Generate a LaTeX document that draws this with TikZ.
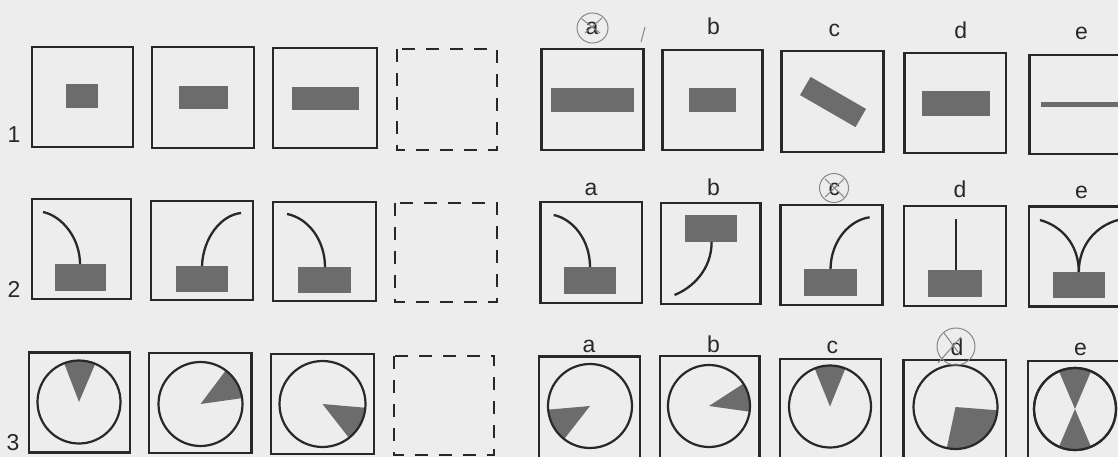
\documentclass[tikz,border=0pt]{standalone}
\usepackage{fontspec}
\setmainfont{Liberation Sans}
\definecolor{paper}{RGB}{237,237,237}
\definecolor{ink}{RGB}{40,40,40}
\definecolor{shade}{RGB}{108,108,108}
\definecolor{pencil}{RGB}{135,135,135}

\begin{document}
\begin{tikzpicture}[x=1pt,y=-1pt,
    boxframe/.style={draw=ink,line width=2.8pt},
    emptybox/.style={draw=ink,line width=2.2pt,dash pattern=on 13pt off 11pt},
    block/.style={fill=shade},
    wire/.style={draw=ink,line width=2.3pt},
    dial/.style={draw=ink,line width=2.2pt},
    letter/.style={font=\fontsize{23}{23}\selectfont,text=ink,anchor=base,inner sep=0pt},
    penmark/.style={draw=pencil,line width=1pt}]
    \useasboundingbox (0,0) rectangle (1118,457);
    \fill[paper] (0,0) rectangle (1118,457);
    \clip (0,0) rectangle (1118,457);
    % row numbers
    \node[letter] (row1) at (14,143) {1};
    \node[letter] (row2) at (14,297) {2};
    \node[letter] (row3) at (13,450) {3};
    % answer letters
    \foreach \lab/\x/\y in {a/592/35,b/713.6/35,c/834.3/37,d/960.8/39,e/1081.5/40}{\node[letter] (r1\lab) at (\x,\y) {\lab};}
    \foreach \lab/\x/\y in {a/590.9/195,b/713.6/195,c/834.3/196,d/960/197,e/1081.5/198}{\node[letter] (r2\lab) at (\x,\y) {\lab};}
    \foreach \lab/\x/\y in {a/589/352,b/713.6/352,c/832.4/353,d/957/355,e/1080.4/355}{\node[letter] (r3\lab) at (\x,\y) {\lab};}
    % frames
    \foreach \xa/\ya/\xb/\yb in {32/47/133/147,152/47/254/148,273/48/377/148,541.8/49/643.4/150,662.6/50/762.6/150,781.8/51/883.4/152,904.4/53/1006/153,1029.8/55/1131/154,
        32/199/131/299,151/201/253/300,273/202/376/301,540.3/202/641.9/303,661/203/760.7/304,780.6/205/882.2/305,904/206/1006/306,1029/206.7/1130/306.7,
        29/352.7/130/452.7,149/353/251.7/453,271/354/374/454,539/356.7/640/458,660/356/759.6/458,779.9/359/881/460,903.3/360/1006/461,1027.9/361/1129/462}
      {\draw[boxframe] (\xa,\ya) rectangle (\xb,\yb);}
    \draw[emptybox] (397,49) rectangle (497,150);
    \draw[emptybox] (395,203) rectangle (497,302);
    \draw[emptybox] (394,356) rectangle (494,455);
    % row 1
    \fill[block] (66,84) rectangle (98,108);
    \fill[block] (179,86) rectangle (228,109);
    \fill[block] (292,87) rectangle (359,110);
    \fill[block] (551,88) rectangle (634,112);
    \fill[block] (689,88) rectangle (736,112);
    \fill[block] (800,95.1) -- (810.6,76.9) -- (866,108.9) -- (855.5,127.1) -- cycle;
    \fill[block] (922,91) rectangle (990,116);
    \fill[block] (1041,102) rectangle (1120,107);
    % row 2
    \fill[block] (55,264) rectangle (106,291);
    \draw[wire] (43,212) .. controls (62,216) and (80,238) .. (80,264);
    \fill[block] (176,266) rectangle (228,292);
    \draw[wire] (202,266) .. controls (203,238) and (221,215) .. (241,213);
    \fill[block] (298,267) rectangle (351,293);
    \draw[wire] (287,214) .. controls (308,218) and (325,240) .. (325,267);
    \fill[block] (564,267) rectangle (616,294);
    \draw[wire] (553.7,215) .. controls (573,219) and (590,240) .. (590,267);
    \fill[block] (685,215) rectangle (737,242);
    \draw[wire] (711.6,242) .. controls (711.6,270) and (692,288) .. (674.5,295);
    \fill[block] (803.6,269) rectangle (857.3,296);
    \draw[wire] (830.5,269) .. controls (831,240) and (850,220) .. (869.6,217.3);
    \fill[block] (928.2,270) rectangle (981.9,296.7);
    \draw[wire] (956.2,219) -- (956.2,270);
    \fill[block] (1052.8,271.7) rectangle (1104.5,298.3);
    \draw[wire] (1078.8,272) .. controls (1078.8,245) and (1062,226) .. (1040,220);
    \draw[wire] (1078.8,272) .. controls (1078.8,245) and (1096,226) .. (1118,220);
    % row 3
    \foreach \cx/\cy/\r/\a/\b in {79/402/41.5/-111/-67,200.5/404/42/-53/-8,322.5/404/43/5/52,590/406/42/128/175,709/406/41/-33/8,830/406.5/41/-112/-68,955.5/407/42/4.5/102,1075/409/41/-113/-67,1075/409/41/67/113}{
      \fill[block] (\cx,\cy) -- ++(\a:\r) arc[start angle=\a,end angle=\b,radius=\r] -- cycle;
      \draw[dial] (\cx,\cy) circle[radius=\r];
    }
    % pencil marks
    \draw[penmark] (592.5,28) ellipse[x radius=15.5,y radius=15];
    \draw[penmark] (582,19) -- (600,33) (602,18) -- (585,33);
    \draw[penmark] (641,42) -- (645,27);
    \draw[penmark] (834,188) ellipse[x radius=14.5,y radius=14.5];
    \draw[penmark] (825,179) -- (844,197) (844,179) -- (825,197);
    \draw[penmark] (956,346.5) ellipse[x radius=19,y radius=18.5];
    \draw[penmark] (938,363) -- (961,337) (944,333) -- (958,352);
\end{tikzpicture}
\end{document}
